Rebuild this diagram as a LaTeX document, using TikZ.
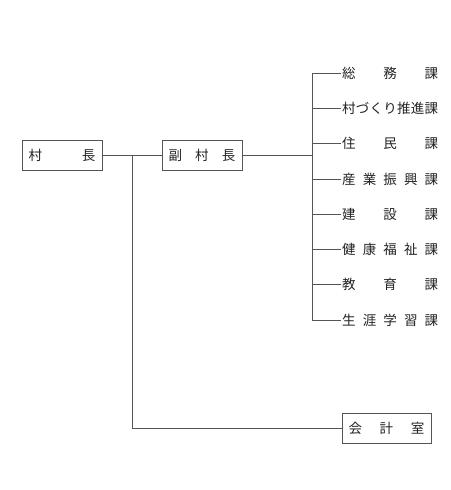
\documentclass[tikz,border=0pt]{standalone}
\usepackage{fontspec}
\usetikzlibrary{positioning, calc}
\usepackage{xcolor}
\newfontfamily\jp{Noto Sans CJK JP}
\definecolor{orgline}{HTML}{555555}
\definecolor{orgtext}{HTML}{222222}

\begin{document}
\begin{tikzpicture}[x=1pt, y=-1pt, font=\jp\fontsize{13.5}{15}\selectfont,
    box/.style={draw=orgline, line width=0.6pt, text=orgtext, inner sep=0pt,
                minimum height=30pt},
    ka/.style={text=orgtext, inner sep=0pt, anchor=west},
    ln/.style={draw=orgline, line width=0.6pt}]
    \useasboundingbox (0,0) rectangle (450,490);
    \node[box, minimum width=80pt] (son)  at (62,155)  {\makebox[67pt][s]{村\hfill 長}};
    \node[box, minimum width=80pt] (fuku) at (202,155) {\makebox[67pt][s]{副\hfill 村\hfill 長}};
    \node[box, minimum width=89pt] (kai)  at (386.5,428) {\makebox[76pt][s]{会\hfill 計\hfill 室}};
    % departments
    \node[ka] (k1) at (342,73)    {\makebox[96pt][s]{総\hfill 務\hfill 課}};
    \node[ka] (k2) at (342,108.3) {\makebox[96pt][s]{村\hfil づ\hfil く\hfil り\hfil 推\hfil 進\hfil 課}};
    \node[ka] (k3) at (342,143.6) {\makebox[96pt][s]{住\hfill 民\hfill 課}};
    \node[ka] (k4) at (342,178.9) {\makebox[96pt][s]{産\hfill 業\hfill 振\hfill 興\hfill 課}};
    \node[ka] (k5) at (342,214.1) {\makebox[96pt][s]{建\hfill 設\hfill 課}};
    \node[ka] (k6) at (342,249.4) {\makebox[96pt][s]{健\hfill 康\hfill 福\hfill 祉\hfill 課}};
    \node[ka] (k7) at (342,284.7) {\makebox[96pt][s]{教\hfill 育\hfill 課}};
    \node[ka] (k8) at (342,320)   {\makebox[96pt][s]{生\hfill 涯\hfill 学\hfill 習\hfill 課}};
    \coordinate (br) at (312,155);
    \coordinate (j)  at (132,155);
    % connectors
    \draw[ln] (son) -- (fuku);
    \draw[ln] (fuku) -- (br);
    \draw[ln] (k1.west -| br) -- (k8.west -| br);
    \draw[ln] (k1.west -| br) -- ([xshift=-1pt]k1.west);
    \draw[ln] (k2.west -| br) -- ([xshift=-1pt]k2.west);
    \draw[ln] (k3.west -| br) -- ([xshift=-1pt]k3.west);
    \draw[ln] (k4.west -| br) -- ([xshift=-1pt]k4.west);
    \draw[ln] (k5.west -| br) -- ([xshift=-1pt]k5.west);
    \draw[ln] (k6.west -| br) -- ([xshift=-1pt]k6.west);
    \draw[ln] (k7.west -| br) -- ([xshift=-1pt]k7.west);
    \draw[ln] (k8.west -| br) -- ([xshift=-1pt]k8.west);
    \draw[ln] (j) |- (kai);
  \end{tikzpicture}
\end{document}
